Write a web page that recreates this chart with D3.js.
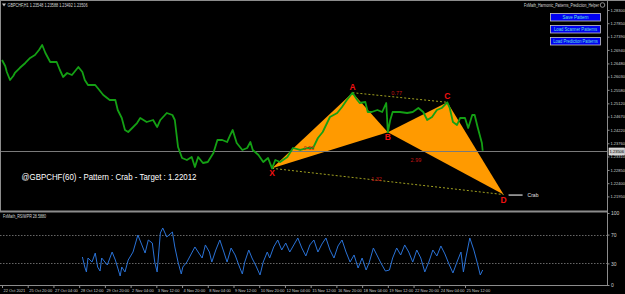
<!DOCTYPE html>
<html>
<head>
<meta charset="utf-8">
<script src="https://cdn.jsdelivr.net/npm/d3@7"></script>
<style>
  html, body { margin: 0; padding: 0; background: #000; }
  svg { display: block; font-family: "Liberation Sans", Arial, sans-serif; }
</style>
</head>
<body>
<svg id="chart" width="625" height="294"></svg>
<script>
// H1 closes (bar index from the first bar on screen)
const priceBars = [
  0, 4, 6, 10, 14, 16, 22, 29, 35, 41,
  46, 50, 54, 60, 68, 72, 76, 81, 87, 95,
  100, 103, 107, 116, 119, 126, 134, 141, 144, 149,
  153, 157, 162, 168, 172, 180, 188, 193, 197, 205,
  212, 215, 219, 224, 230, 236, 240, 244, 250, 256,
  263, 268, 274, 280, 284, 287, 292, 299, 305, 309,
  312, 319, 325, 331, 336, 340, 346, 355, 362, 371,
  380, 387, 393, 399, 408, 417, 423, 429, 436, 442,
  445, 452, 455, 460, 467, 473, 478, 480, 483, 486,
  495, 504, 511, 518, 524, 529, 535, 541, 547, 554,
  557, 561, 566, 570, 576, 580, 585, 588, 592, 597,
  598
];
const priceCloses = [
  1.26597, 1.26392, 1.26188, 1.25915, 1.26052, 1.26154, 1.26324, 1.26495, 1.26665, 1.26767,
  1.26938, 1.27108, 1.26835, 1.26529, 1.26529, 1.26256, 1.26018, 1.26154, 1.26086, 1.26358,
  1.26188, 1.25915, 1.25745, 1.25745, 1.25643, 1.25404, 1.25234, 1.25234, 1.24893, 1.24621,
  1.24212, 1.24144, 1.24280, 1.24450, 1.24621, 1.24485, 1.24553, 1.24314, 1.24553, 1.24791,
  1.24723, 1.24553, 1.23633, 1.23258, 1.23190, 1.23292, 1.22951, 1.23292, 1.23088, 1.23122,
  1.23428, 1.23871, 1.23871, 1.23803, 1.24042, 1.24212, 1.23769, 1.23531, 1.23599, 1.23803,
  1.23531, 1.23360, 1.23122, 1.23258, 1.22907, 1.23190, 1.23122, 1.23292, 1.23599, 1.23531,
  1.23599, 1.23599, 1.23939, 1.24144, 1.24655, 1.24791, 1.24996, 1.25234, 1.25483, 1.25234,
  1.25132, 1.25166, 1.24825, 1.24825, 1.24893, 1.24825, 1.25132, 1.24134, 1.24553, 1.24825,
  1.24825, 1.24791, 1.24825, 1.24961, 1.24825, 1.24553, 1.24655, 1.24893, 1.24961, 1.25156,
  1.24961, 1.24485, 1.24382, 1.24621, 1.24621, 1.24280, 1.24723, 1.24723, 1.24280, 1.23769,
  1.23506
];

const rsiBars = [
  100, 103, 105, 107, 112, 116, 119, 122, 124, 131,
  137, 141, 144, 147, 149, 153, 157, 163, 169, 174,
  178, 182, 187, 190, 193, 197, 200, 205, 212, 215,
  219, 223, 225, 230, 236, 240, 244, 249, 253, 258,
  261, 266, 271, 276, 280, 285, 290, 295, 299, 302,
  307, 311, 316, 321, 325, 330, 333, 338, 343, 348,
  353, 358, 363, 368, 373, 378, 383, 388, 393, 398,
  403, 408, 413, 418, 423, 428, 433, 438, 443, 448,
  453, 457, 462, 467, 472, 477, 482, 486, 491, 496,
  501, 506, 511, 516, 521, 526, 531, 536, 541, 546,
  551, 556, 561, 566, 571, 574, 577, 582, 587, 591,
  595, 598
];
const rsiValues = [
  38.9, 25.0, 18.1, 37.5, 31.9, 44.4, 25.0, 19.4, 37.5, 27.8,
  45.8, 34.7, 23.6, 12.5, 25.0, 18.1, 34.7, 45.8, 69.4, 55.6,
  44.4, 62.5, 58.3, 31.9, 18.1, 72.2, 79.2, 66.7, 73.6, 52.8,
  31.9, 15.3, 25.0, 31.9, 44.4, 52.8, 45.8, 37.5, 55.6, 45.8,
  31.9, 48.6, 62.5, 45.8, 31.9, 51.4, 41.7, 26.4, 15.3, 31.9,
  48.6, 37.5, 26.4, 13.9, 31.9, 45.8, 37.5, 52.8, 62.5, 48.6,
  58.3, 45.8, 55.6, 65.3, 51.4, 40.3, 55.6, 62.5, 45.8, 56.9,
  65.3, 48.6, 37.5, 54.2, 62.5, 45.8, 31.9, 41.7, 23.6, 37.5,
  20.8, 31.9, 51.4, 40.3, 29.2, 19.4, 20.8, 37.5, 51.4, 41.7,
  55.6, 45.8, 31.9, 48.6, 37.5, 18.1, 31.9, 48.6, 40.3, 54.2,
  43.1, 29.2, 16.7, 31.9, 45.8, 18.1, 37.5, 65.3, 48.6, 31.9,
  13.9, 20.8
];

const priceTicks = [1.28300, 1.27850, 1.27390, 1.26940, 1.26480, 1.26030, 1.25580,
  1.25120, 1.24670, 1.24220, 1.23760, 1.23310, 1.22850, 1.22400, 1.21950];
const timeLabels = ["22 Oct 2021", "25 Oct 20:00", "27 Oct 04:00", "28 Oct 12:00",
  "29 Oct 20:00", "2 Nov 04:00", "3 Nov 12:00", "4 Nov 20:00", "8 Nov 04:00",
  "9 Nov 12:00", "10 Nov 20:00", "12 Nov 04:00", "15 Nov 12:00", "16 Nov 20:00",
  "18 Nov 04:00", "19 Nov 12:00", "22 Nov 20:00", "24 Nov 04:00", "25 Nov 12:00"];
const rsiTicks = [100, 70, 30, 0];
const rsiLevels = [70, 30];

const lastPrice = 1.23506;

// harmonic pattern points
const pointNames = ["X", "A", "B", "C", "D"];
const pointBars = [336, 436, 480, 554, 624];
const pointPrices = [1.22907, 1.25483, 1.24134, 1.25156, 1.22012];

const ratioTexts = ["0.55", "0.77", "2.99", "1.32"];
const ratioBars = [382, 491, 515, 466];
const ratioPrices = [1.23531, 1.25404, 1.23122, 1.22474];

const buttonLabels = ["Save Pattern", "Load Scanner Patterns", "Load Prediction Patterns"];

const svg = d3.select("#chart");
const W = 625, H = 294;
const axisX = 607;

svg.append("rect").attr("width", W).attr("height", H).attr("fill", "#000");

const x = d3.scaleLinear().domain([0, 576]).range([2, 465]);
const y = d3.scaleLinear().domain([1.21950, 1.28300]).range([196.4, 10]);
const yR = d3.scaleLinear().domain([0, 100]).range([285, 213]);

const pt = i => [x(pointBars[i]), y(pointPrices[i])];

// clip for main window
svg.append("clipPath").attr("id", "mainClip")
  .append("rect").attr("x", 0).attr("y", 0).attr("width", axisX).attr("height", 211);

const main = svg.append("g").attr("clip-path", "url(#mainClip)");

// pattern triangles
const tri = d3.line();
main.append("path")
  .attr("d", tri([pt(0), pt(1), pt(2)]) + "Z")
  .attr("fill", "#ff9a00");
main.append("path")
  .attr("d", tri([pt(2), pt(3), pt(4)]) + "Z")
  .attr("fill", "#ff9a00");

// dotted legs A-C and X-D
[[1, 3], [0, 4]].forEach(([a, b]) => {
  main.append("line")
    .attr("x1", pt(a)[0]).attr("y1", pt(a)[1])
    .attr("x2", pt(b)[0]).attr("y2", pt(b)[1])
    .attr("stroke", "#a0a020")
    .attr("stroke-width", 1)
    .attr("stroke-dasharray", "2,2");
});

// last price line
main.append("line")
  .attr("x1", 0).attr("x2", axisX)
  .attr("y1", Math.round(y(lastPrice)) + 0.5).attr("y2", Math.round(y(lastPrice)) + 0.5)
  .attr("stroke", "#7a7a7a").attr("stroke-width", 1);

// price line
const priceLine = d3.line()
  .x((d, i) => x(priceBars[i]))
  .y(d => y(d));
main.append("path")
  .datum(priceCloses)
  .attr("d", priceLine)
  .attr("fill", "none")
  .attr("stroke", "#14a014")
  .attr("stroke-width", 1.8)
  .attr("stroke-linejoin", "round");

// ratio labels
ratioTexts.forEach((t, i) => {
  main.append("text")
    .attr("x", x(ratioBars[i])).attr("y", y(ratioPrices[i]))
    .attr("text-anchor", "middle")
    .attr("font-size", 5.5)
    .attr("fill", "#c01414")
    .text(t);
});

// point labels
const labelShift = { X: 8, A: -3, B: 8, C: -3, D: 8 };
pointNames.forEach((n, i) => {
  main.append("text")
    .attr("x", pt(i)[0]).attr("y", pt(i)[1] + labelShift[n])
    .attr("text-anchor", "middle")
    .attr("font-size", 8.5)
    .attr("font-weight", "bold")
    .attr("fill", "#f01010")
    .text(n);
});

// crab marker next to D
main.append("line")
  .attr("x1", pt(4)[0] + 5).attr("x2", pt(4)[0] + 19)
  .attr("y1", pt(4)[1] + 0.5).attr("y2", pt(4)[1] + 0.5)
  .attr("stroke", "#b0b0b0").attr("stroke-width", 1.5);
main.append("text")
  .attr("x", pt(4)[0] + 24).attr("y", pt(4)[1] + 2.5)
  .attr("font-size", 5).attr("fill", "#e0e0e0")
  .text("Crab");

// pattern caption
svg.append("text")
  .attr("x", 21.5).attr("y", 179.5)
  .attr("font-size", 8.5).attr("fill", "#ffffff")
  .attr("textLength", 175).attr("lengthAdjust", "spacingAndGlyphs")
  .text("@GBPCHF(60) - Pattern : Crab - Target : " + pointPrices[4].toFixed(5));

// header texts
svg.append("path").attr("d", "M2,3.5 L6,3.5 L4,6.5 Z").attr("fill", "#c0c0c0");
svg.append("text")
  .attr("x", 7.5).attr("y", 7)
  .attr("font-size", 5).attr("fill", "#d8d8d8")
  .attr("textLength", 80).attr("lengthAdjust", "spacingAndGlyphs")
  .text("GBPCHF,H1  1.23548 1.23588 1.23492 1.23506");
svg.append("text")
  .attr("x", 524).attr("y", 7)
  .attr("font-size", 5).attr("fill", "#d8d8d8")
  .attr("textLength", 75).attr("lengthAdjust", "spacingAndGlyphs")
  .text("FxMath_Harmonic_Patterns_Prediction_Helper");
svg.append("circle").attr("cx", 602.5).attr("cy", 5).attr("r", 2.3)
  .attr("fill", "none").attr("stroke", "#b0b0b0").attr("stroke-width", 0.8);

// buttons
const btnTop = [13.5, 25.5, 37.5];
const btnW = [26, 43, 44.5];
buttonLabels.forEach((b, i) => {
  svg.append("rect")
    .attr("x", 550.5).attr("y", btnTop[i])
    .attr("width", 50).attr("height", 7.5)
    .attr("fill", "#0000f0")
    .attr("stroke", "#c8c8c8").attr("stroke-width", 0.8);
  svg.append("text")
    .attr("x", 575.5).attr("y", btnTop[i] + 5.6)
    .attr("text-anchor", "middle")
    .attr("font-size", 5).attr("fill", "#66e0d8")
    .attr("textLength", btnW[i]).attr("lengthAdjust", "spacingAndGlyphs")
    .text(b);
});

// frame lines
const gray = "#8c8c8c";
svg.append("line").attr("x1", 0).attr("x2", W).attr("y1", 0.5).attr("y2", 0.5).attr("stroke", gray);
svg.append("line").attr("x1", 0.5).attr("x2", 0.5).attr("y1", 0).attr("y2", 211).attr("stroke", gray);
svg.append("line").attr("x1", 0).attr("x2", axisX).attr("y1", 211.5).attr("y2", 211.5)
  .attr("stroke", gray).attr("stroke-width", 2);
svg.append("line").attr("x1", axisX + 0.5).attr("x2", axisX + 0.5).attr("y1", 0).attr("y2", 286)
  .attr("stroke", gray);
svg.append("line").attr("x1", 0).attr("x2", axisX + 1).attr("y1", 285.5).attr("y2", 285.5)
  .attr("stroke", gray);

// price axis
const yAxis = svg.append("g")
  .attr("transform", `translate(${axisX + 0.5},0)`)
  .call(d3.axisRight(y).tickValues(priceTicks).tickFormat(d3.format(".5f")).tickSize(2).tickPadding(1));
yAxis.select(".domain").remove();
yAxis.selectAll("line").attr("stroke", gray);
yAxis.selectAll("text").attr("font-size", 4).attr("fill", "#d0d0d0").attr("font-family", "Liberation Sans, Arial");

// last price tag
const lp = Math.round(y(lastPrice)) + 0.5;
svg.append("rect").attr("x", axisX + 2).attr("y", lp - 3.5).attr("width", 15.5).attr("height", 7)
  .attr("fill", "#c8c8c8").attr("stroke", "#ffffff").attr("stroke-width", 0.6);
svg.append("text").attr("x", axisX + 2.6).attr("y", lp + 1.5)
  .attr("font-size", 4).attr("fill", "#000").text(lastPrice.toFixed(5));

// sub window
svg.append("text")
  .attr("x", 3).attr("y", 217.5)
  .attr("font-size", 5).attr("fill", "#d8d8d8")
  .attr("textLength", 43).attr("lengthAdjust", "spacingAndGlyphs")
  .text("FxMath_RSIWPR 28.5880");

rsiLevels.forEach(v => {
  svg.append("line")
    .attr("x1", 0).attr("x2", axisX)
    .attr("y1", Math.round(yR(v)) + 0.5).attr("y2", Math.round(yR(v)) + 0.5)
    .attr("stroke", "#808080").attr("stroke-width", 0.8)
    .attr("stroke-dasharray", "1.5,1.5");
});

const rsiLine = d3.line()
  .x((d, i) => x(rsiBars[i]))
  .y(d => yR(d));
svg.append("path")
  .datum(rsiValues)
  .attr("d", rsiLine)
  .attr("fill", "none")
  .attr("stroke", "#2a72d6")
  .attr("stroke-width", 1);

const rAxis = svg.append("g")
  .attr("transform", `translate(${axisX + 0.5},0)`)
  .call(d3.axisRight(yR).tickValues(rsiTicks).tickSize(2).tickPadding(1.5));
rAxis.select(".domain").remove();
rAxis.selectAll("line").attr("stroke", gray);
rAxis.selectAll("text").attr("font-size", 5).attr("fill", "#d0d0d0").attr("font-family", "Liberation Sans, Arial");

// time axis
const xAxis = svg.append("g")
  .attr("transform", "translate(0,285.5)")
  .call(d3.axisBottom(x).tickValues(d3.range(0, 577, 32)).tickSize(2.5)
    .tickFormat((d, i) => timeLabels[i]));
xAxis.select(".domain").remove();
xAxis.selectAll("line").attr("stroke", gray);
xAxis.selectAll("text")
  .attr("text-anchor", "start")
  .attr("dx", 1)
  .attr("y", 3.5)
  .attr("font-size", 4)
  .attr("fill", "#d0d0d0")
  .attr("font-family", "Liberation Sans, Arial");
</script>
</body>
</html>
